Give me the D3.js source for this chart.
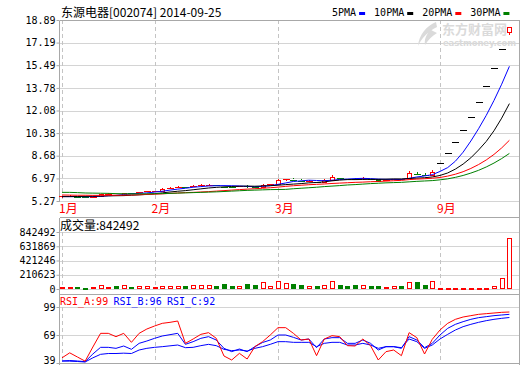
<!DOCTYPE html>
<html>
<head>
<meta charset="utf-8">
<script src="https://cdn.jsdelivr.net/npm/d3@7"></script>
<style>
body { margin: 0; background: #fff; }
svg { display: block; }
</style>
</head>
<body>
<div id="chart"></div>
<script>
var width = 520;
var height = 365;

// trading days shown (stock suspended April - mid September)
var dates = [
  "2014-01-15","2014-01-16","2014-01-17","2014-01-20","2014-01-21","2014-01-22","2014-01-23","2014-01-24","2014-01-27","2014-01-28","2014-01-29","2014-01-30",
  "2014-02-07","2014-02-10","2014-02-11","2014-02-12","2014-02-13","2014-02-14","2014-02-17","2014-02-18","2014-02-19","2014-02-20","2014-02-21","2014-02-24","2014-02-25","2014-02-26","2014-02-27","2014-02-28",
  "2014-03-03","2014-03-04","2014-03-05","2014-03-06","2014-03-07","2014-03-10","2014-03-11","2014-03-12","2014-03-13","2014-03-14","2014-03-17","2014-03-18","2014-03-19","2014-03-20","2014-03-21","2014-03-24","2014-03-25","2014-03-26","2014-03-27","2014-03-28","2014-03-31",
  "2014-09-12","2014-09-15","2014-09-16","2014-09-17","2014-09-18","2014-09-19","2014-09-22","2014-09-23","2014-09-24","2014-09-25"
];

var opens = [5.32,5.40,5.36,5.32,5.36,5.36,5.57,5.54,5.51,5.64,5.62,5.71,
  5.83,5.82,6.00,6.05,6.19,6.10,6.21,6.27,6.32,6.24,6.15,6.12,6.19,6.15,6.13,6.32,
  6.38,6.68,6.74,6.68,6.57,6.61,6.53,6.68,6.88,6.80,6.78,6.72,6.80,6.76,6.72,6.68,6.74,6.88,7.17,7.10,7.05,
  8.01,8.81,9.69,10.66,11.73,12.90,14.19,15.61,17.17,18.50];
var highs = [5.40,5.43,5.38,5.36,5.38,5.55,5.60,5.55,5.66,5.66,5.72,5.82,
  5.87,6.03,6.08,6.17,6.21,6.24,6.32,6.36,6.35,6.27,6.19,6.21,6.23,6.17,6.35,6.38,
  6.72,6.77,6.83,6.72,6.66,6.63,6.72,7.09,6.93,6.85,6.80,6.93,6.83,6.78,6.74,6.78,6.76,7.36,7.27,7.19,7.47,
  8.01,8.81,9.69,10.66,11.73,12.90,14.19,15.61,17.17,18.89];
var lows = [5.27,5.31,5.29,5.28,5.30,5.34,5.49,5.45,5.49,5.57,5.60,5.68,
  5.74,5.80,5.96,6.03,6.06,6.08,6.17,6.23,6.19,6.10,6.06,6.09,6.06,6.06,6.08,6.27,
  6.35,6.61,6.63,6.53,6.55,6.49,6.51,6.66,6.78,6.74,6.68,6.70,6.72,6.59,6.63,6.66,6.68,6.83,7.09,7.02,7.02,
  8.01,8.81,9.69,10.66,11.73,12.90,14.19,15.61,17.17,18.25];
var closes = [5.36,5.37,5.32,5.31,5.33,5.53,5.54,5.49,5.64,5.61,5.70,5.76,
  5.80,5.98,6.04,6.14,6.08,6.19,6.26,6.30,6.23,6.14,6.10,6.17,6.15,6.10,6.30,6.36,
  6.67,6.74,6.68,6.57,6.61,6.53,6.68,6.88,6.83,6.78,6.72,6.80,6.76,6.63,6.68,6.74,6.72,7.25,7.14,7.08,7.28,
  8.01,8.81,9.69,10.66,11.73,12.90,14.19,15.61,17.17,18.89];
var volumes = [28000,33500,38000,16800,38000,66000,38000,55000,66000,38000,49000,49000,
  38000,55000,55000,55000,55000,66000,66000,66000,55000,88000,55000,55000,88000,66000,115000,45000,
  132000,94000,83000,66000,45000,49000,60000,132000,66000,49000,66000,60000,49000,49000,33500,45000,49000,111000,111000,66000,132000,
  11000,10000,9000,10000,11000,12000,13000,55000,177000,842492];

var ma5 = [5.34,5.34,5.34,5.33,5.34,5.37,5.41,5.44,5.51,5.56,5.60,5.64,5.70,5.77,5.86,5.94,6.01,6.09,6.14,6.19,
  6.21,6.22,6.21,6.19,6.16,6.13,6.16,6.22,6.32,6.43,6.55,6.60,6.65,6.63,6.61,6.65,6.71,6.74,6.78,6.80,
  6.78,6.74,6.72,6.72,6.71,6.80,6.91,6.99,7.09,7.35,7.66,8.17,8.89,9.78,10.76,11.83,13.02,14.32,15.75];
var ma10 = [5.34,5.34,5.35,5.36,5.37,5.38,5.40,5.41,5.42,5.45,5.48,5.52,5.57,5.64,5.71,5.77,5.82,5.89,5.96,6.03,
  6.08,6.12,6.15,6.17,6.18,6.17,6.19,6.21,6.25,6.30,6.34,6.38,6.44,6.47,6.52,6.60,6.66,6.70,6.70,6.71,
  6.72,6.72,6.73,6.75,6.75,6.79,6.82,6.85,6.91,7.03,7.23,7.54,7.94,8.44,9.06,9.75,10.60,11.61,12.77];
var ma20 = [5.47,5.46,5.45,5.45,5.44,5.44,5.45,5.45,5.46,5.47,5.49,5.51,5.53,5.56,5.60,5.63,5.66,5.68,5.71,5.74,
  5.78,5.82,5.86,5.90,5.94,5.97,6.01,6.05,6.10,6.16,6.21,6.25,6.29,6.32,6.35,6.39,6.42,6.45,6.48,6.50,
  6.53,6.55,6.58,6.61,6.64,6.70,6.74,6.77,6.81,6.87,6.98,7.13,7.33,7.59,7.90,8.27,8.71,9.23,9.84];
var ma30 = [5.68,5.68,5.66,5.63,5.62,5.61,5.60,5.58,5.57,5.56,5.56,5.56,5.57,5.58,5.60,5.62,5.64,5.66,5.68,5.70,
  5.72,5.75,5.78,5.81,5.84,5.86,5.88,5.90,5.91,5.92,5.97,6.01,6.05,6.09,6.14,6.18,6.22,6.27,6.30,6.34,
  6.38,6.41,6.44,6.46,6.48,6.52,6.56,6.59,6.62,6.68,6.76,6.88,7.03,7.22,7.44,7.71,8.02,8.38,8.79];

var rsiA = [44,50,45,40,57,73.4,73.4,69.4,73.4,62.6,73.4,78.6,82.2,85.4,86.6,88.2,61.4,66.6,72.2,74.2,
  67.4,46.2,41.4,49.4,42.6,57.4,63.4,71.4,80.2,80.2,73.4,65.4,66.6,46.6,66.6,70.6,69.4,58.6,58.2,66.6,
  58.6,41.4,51.4,53.4,46.6,74.2,68.2,48.6,66.2,77.4,85.4,90.2,93,94.6,96.2,97,97.8,98.6,99];
var rsiB = [40.2,40.8,40.2,39.4,48.6,56.6,56.6,55.4,58.2,54.2,61.4,64.2,67.4,70.2,71.8,73.4,60.2,63.4,67.4,69.4,
  65.4,55.4,51.4,54.6,51.4,57.4,62.4,65.4,71.4,71.4,68.6,65.4,66.6,56.2,66.6,68.2,68.2,61.4,61.4,65.4,
  61.4,53.4,57.4,57.4,55.4,69.4,65.4,56.2,61.4,71.4,79.4,84.2,87.4,90.2,92.2,93.4,94.6,95.4,96.2];
var rsiC = [40.2,40,39.6,39,44,48.2,49.2,49.2,49.6,49.2,53.4,55.4,56.6,57.4,58.4,59.4,56.2,56.6,58.6,60.2,
  58.6,54.2,52.6,53.4,52.2,55.4,57.4,60.2,63.4,63.4,62.6,62.6,62.6,57.4,61.4,62.6,62.6,59.4,59.4,61.4,
  59.4,55.4,57.4,57.4,56.2,66.6,63.4,55.4,59.4,66.6,72.2,77.4,81.4,84.2,86.6,88.6,90.2,91.4,92.4];

var priceTicks = [5.27, 6.97, 8.68, 10.38, 12.08, 13.78, 15.49, 17.19, 18.89];
var volumeTicks = [0, 210623, 421246, 631869, 842492];
var rsiTicks = [39, 69, 99];

var maNames = ["5PMA", "10PMA", "20PMA", "30PMA"];
var rsiNames = ["RSI_A", "RSI_B", "RSI_C"];

var red = "#ff0000", green = "#008000", blue = "#0000ff";
var gridColor = "#d4d4d4", borderColor = "#a8a8a8";
var monoFont = "'DejaVu Sans Mono', monospace";
var cjkFont = "'Noto Sans CJK SC', sans-serif";

var left = 59, right = 519;

var svg = d3.select("#chart").append("svg")
  .attr("width", width)
  .attr("height", height);

var x = d3.scalePoint().domain(dates).range([62, 509.4]);

// axis label scales (labels are spread over the full panel)
var priceAxisY = d3.scaleLinear().domain(d3.extent(priceTicks)).range([201, 20]);
var volAxisY = d3.scaleLinear().domain(d3.extent(volumeTicks)).range([289, 232]);
var rsiAxisY = d3.scaleLinear().domain(d3.extent(rsiTicks)).range([363, 307]);
// data scales (marks keep a little margin inside the panel)
var priceY = d3.scaleLinear().domain([d3.min(lows), d3.max(highs)]).range([197.5, 27]);
var volY = d3.scaleLinear().domain([0, d3.max(volumes)]).range([289, 238]);
var rsiY = d3.scaleLinear().domain(d3.extent(rsiTicks)).range([362, 312]);

var candles = dates.map(function(d, i) {
  return { date: d, open: opens[i], high: highs[i], low: lows[i], close: closes[i],
           prev: i > 0 ? closes[i - 1] : opens[i], volume: volumes[i] };
});

function kind(d) {
  if (d.high === d.low) return "flat";
  if (d.close > d.open) return "up";
  if (d.close < d.open) return d.close >= d.prev ? "upfill" : "down";
  return d.close >= d.prev ? "dojiup" : "dojidown";
}
function candleColor(d) {
  var k = kind(d);
  if (k === "flat") return "#000";
  return (k === "down" || k === "dojidown") ? green : red;
}
function px(v) { return Math.round(v) + 0.5; }

// ---------- grid ----------
var grid = svg.append("g").attr("shape-rendering", "crispEdges");

function hGrid(scale, ticks) {
  grid.append("g").selectAll("line")
    .data(ticks)
    .join("line")
    .attr("x1", left).attr("x2", right)
    .attr("y1", function(d) { return px(scale(d)); })
    .attr("y2", function(d) { return px(scale(d)); })
    .attr("stroke", gridColor);
}
hGrid(priceAxisY, priceTicks);
hGrid(volAxisY, volumeTicks);
hGrid(rsiAxisY, rsiTicks);

var monthStarts = dates.filter(function(d, i) {
  return i === 0 || d.slice(5, 7) !== dates[i - 1].slice(5, 7);
});

[[20, 201], [232, 289], [307, 363]].forEach(function(span) {
  grid.append("g").selectAll("line")
    .data(monthStarts)
    .join("line")
    .attr("x1", function(d) { return px(x(d)); })
    .attr("x2", function(d) { return px(x(d)); })
    .attr("y1", span[0]).attr("y2", span[1])
    .attr("stroke", "#c4c4c4")
    .attr("stroke-dasharray", "4,3");
});

// borders
var borders = [
  [left, 20, right, 20], [right, 20, right, 364],
  [left, 20, left, 201], [left, 217, left, 364],
  [left, 217, right, 217], [left, 294, right, 294], [left, 363, right, 363]
];
grid.append("g").selectAll("line")
  .data(borders)
  .join("line")
  .attr("x1", function(d) { return px(d[0]); })
  .attr("y1", function(d) { return px(d[1]); })
  .attr("x2", function(d) { return px(d[2]); })
  .attr("y2", function(d) { return px(d[3]); })
  .attr("stroke", borderColor);

// ---------- axes ----------
function leftAxis(scale, ticks, fmt) {
  var g = svg.append("g")
    .attr("transform", "translate(" + (left + 0.5) + ",0)")
    .call(d3.axisLeft(scale).tickValues(ticks).tickSize(3).tickPadding(1).tickFormat(fmt));
  g.select(".domain").remove();
  g.selectAll(".tick line").attr("stroke", borderColor);
  g.selectAll(".tick text")
    .attr("fill", "#000")
    .style("font-family", monoFont)
    .style("font-size", "10px");
  return g;
}
leftAxis(priceAxisY, priceTicks, d3.format(".2f"));
leftAxis(volAxisY, volumeTicks, d3.format("d"));
var rsiAxis = leftAxis(rsiAxisY, rsiTicks, d3.format("d"));
rsiAxis.selectAll(".tick text").filter(function(d) { return d === d3.min(rsiTicks); }).attr("y", -3);

// month labels
svg.append("g").selectAll("text")
  .data(monthStarts)
  .join("text")
  .attr("x", function(d) { return x(d) - 3; })
  .attr("y", 213)
  .attr("fill", red)
  .style("font-family", cjkFont)
  .style("font-size", "12px")
  .text(function(d) { return (+d.slice(5, 7)) + "月"; });

// ---------- watermark ----------
var wm = svg.append("g").attr("fill", "#dadada");
wm.append("path")
  .attr("d", "M436,22 C426,26 419,35 418,46 C421,39 428,31 437,27 Z M431,30 C426,34 424,40 425,45 C428,40 432,36 437,33 Z");
wm.append("text").attr("x", 442).attr("y", 33.5)
  .style("font-family", cjkFont).style("font-size", "13px").style("font-weight", "bold")
  .text("东方财富网");
wm.append("text").attr("x", 443).attr("y", 45.5)
  .attr("textLength", 73)
  .style("font-family", "'DejaVu Sans', sans-serif").style("font-size", "8.5px").style("font-weight", "bold")
  .text("eastmoney.com");

// ---------- candles ----------
var cg = svg.append("g").attr("shape-rendering", "crispEdges");

cg.selectAll(".wick-hi")
  .data(candles.filter(function(d) { return kind(d) !== "flat"; }))
  .join("line")
  .attr("x1", function(d) { return px(x(d.date)); })
  .attr("x2", function(d) { return px(x(d.date)); })
  .attr("y1", function(d) { return priceY(d.high); })
  .attr("y2", function(d) { return priceY(Math.max(d.open, d.close)); })
  .attr("stroke", candleColor);

cg.selectAll(".wick-lo")
  .data(candles.filter(function(d) { return kind(d) !== "flat"; }))
  .join("line")
  .attr("x1", function(d) { return px(x(d.date)); })
  .attr("x2", function(d) { return px(x(d.date)); })
  .attr("y1", function(d) { return priceY(Math.min(d.open, d.close)); })
  .attr("y2", function(d) { return priceY(d.low); })
  .attr("stroke", candleColor);

function bodyHeight(d) {
  return priceY(Math.min(d.open, d.close)) - priceY(Math.max(d.open, d.close));
}

// bodies tall enough to be boxes
cg.selectAll(".body")
  .data(candles.filter(function(d) { return kind(d) !== "flat" && bodyHeight(d) >= 1.5; }))
  .join("rect")
  .attr("x", function(d) { return Math.round(x(d.date)) - 2 + 0.5; })
  .attr("y", function(d) { return px(priceY(Math.max(d.open, d.close))); })
  .attr("width", 4)
  .attr("height", function(d) { return Math.max(1, Math.round(bodyHeight(d))); })
  .attr("fill", function(d) { return kind(d) === "up" ? "#fff" : candleColor(d); })
  .attr("stroke", candleColor);

// very thin bodies and one-price days drawn as dashes
cg.selectAll(".dash")
  .data(candles.filter(function(d) { return kind(d) === "flat" || bodyHeight(d) < 1.5; }))
  .join("line")
  .attr("x1", function(d) { return Math.round(x(d.date)) - 3; })
  .attr("x2", function(d) { return Math.round(x(d.date)) + 4; })
  .attr("y1", function(d) { return px(priceY(d.close)); })
  .attr("y2", function(d) { return px(priceY(d.close)); })
  .attr("stroke", candleColor);

// ---------- moving averages ----------
var maSeries = [ma5, ma10, ma20, ma30];
var maColors = [blue, "#000", red, green];
var maLine = d3.line()
  .x(function(d, i) { return x(dates[i]); })
  .y(function(d) { return priceY(d); });

svg.append("g").selectAll("path")
  .data(maSeries)
  .join("path")
  .attr("d", maLine)
  .attr("fill", "none")
  .attr("stroke", function(d, i) { return maColors[i]; })
  .attr("stroke-width", 1);

// ---------- volume ----------
function volHollow(d) {
  var k = kind(d);
  return k === "up" || k === "dojiup" || k === "flat";
}
function volColor(d) {
  var k = kind(d);
  return (k === "down" || k === "dojidown") ? green : red;
}
svg.append("g").attr("shape-rendering", "crispEdges")
  .selectAll("rect")
  .data(candles)
  .join("rect")
  .attr("x", function(d) { return Math.round(x(d.date)) - 2 + 0.5; })
  .attr("y", function(d) { return px(volY(d.volume)); })
  .attr("width", 4)
  .attr("height", function(d) { return Math.max(0.5, Math.round(volY(0) - volY(d.volume)) - 1); })
  .attr("fill", function(d) { return volHollow(d) ? "#fff" : volColor(d); })
  .attr("stroke", volColor);

svg.append("text")
  .attr("x", 60).attr("y", 230)
  .style("font-family", cjkFont).style("font-size", "12px")
  .text("成交量:" + volumes[volumes.length - 1]);

// ---------- RSI ----------
var rsiSeries = [rsiC, rsiB, rsiA];
var rsiColors = [blue, blue, red];
var rsiLine = d3.line()
  .x(function(d, i) { return x(dates[i]); })
  .y(function(d) { return rsiY(d); });

svg.append("g").selectAll("path")
  .data(rsiSeries)
  .join("path")
  .attr("d", rsiLine)
  .attr("fill", "none")
  .attr("stroke", function(d, i) { return rsiColors[i]; })
  .attr("stroke-width", 1);

var rsiLast = [rsiA, rsiB, rsiC].map(function(s) { return Math.round(s[s.length - 1]); });
svg.append("g").selectAll("text")
  .data(rsiNames)
  .join("text")
  .attr("x", function(d, i) { return 60 + i * 53.5; })
  .attr("y", 305)
  .attr("fill", function(d, i) { return i === 0 ? red : blue; })
  .style("font-family", monoFont).style("font-size", "10px")
  .text(function(d, i) { return d + ":" + rsiLast[i]; });

// ---------- header ----------
svg.append("text")
  .attr("x", 61).attr("y", 17)
  .style("font-family", cjkFont).style("font-size", "12px")
  .text("东源电器[002074] " + dates[dates.length - 1]);

var lx = 332;
maNames.forEach(function(name, i) {
  var t = svg.append("text")
    .attr("x", lx).attr("y", 16)
    .style("font-family", monoFont).style("font-size", "10px")
    .text(name);
  var w = t.node().getComputedTextLength();
  svg.append("rect")
    .attr("x", lx + w + 3).attr("y", 12)
    .attr("width", 6).attr("height", 3)
    .attr("fill", maColors[i]);
  lx = lx + w + 3 + 6 + 9;
});
</script>
</body>
</html>
